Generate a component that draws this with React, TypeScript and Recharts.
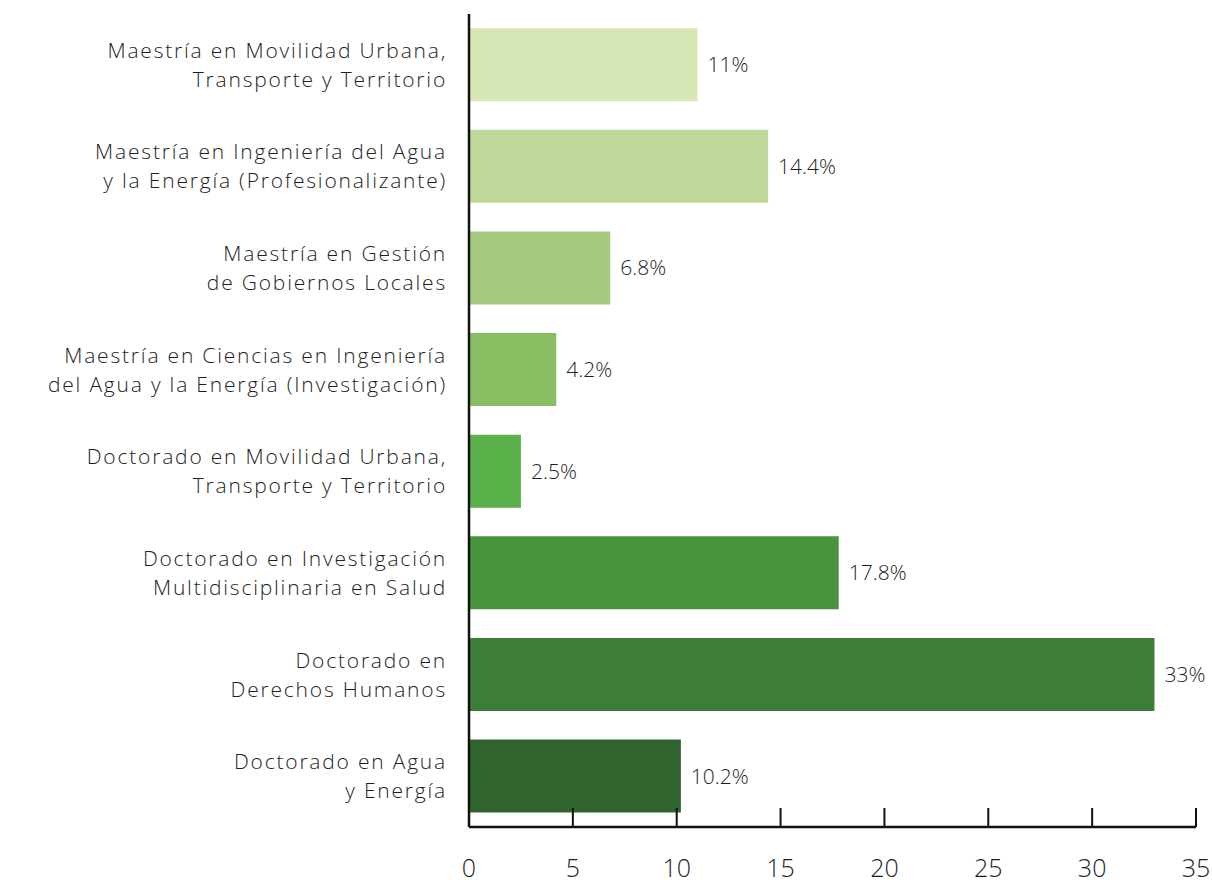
import React from 'react'
import { BarChart, Bar, XAxis, YAxis, Cell, LabelList } from 'recharts'

const programs = [
  ['Maestría en Movilidad Urbana,', 'Transporte y Territorio'],
  ['Maestría en Ingeniería del Agua', 'y la Energía (Profesionalizante)'],
  ['Maestría en Gestión', 'de Gobiernos Locales'],
  ['Maestría en Ciencias en Ingeniería', 'del Agua y la Energía (Investigación)'],
  ['Doctorado en Movilidad Urbana,', 'Transporte y Territorio'],
  ['Doctorado en Investigación', 'Multidisciplinaria en Salud'],
  ['Doctorado en', 'Derechos Humanos'],
  ['Doctorado en Agua', 'y Energía'],
]
const shares = [11, 14.4, 6.8, 4.2, 2.5, 17.8, 33, 10.2]
const xTicks = [0, 5, 10, 15, 20, 25, 30, 35]
const COLORS = ['#d8e7b6', '#bfd99a', '#a5cb80', '#88bf62', '#5ab049', '#48943d', '#3c7d37', '#30652f']

const data = programs.map((lines, i) => ({ name: lines.join(' '), lines, value: shares[i] }))

const FONT = '"Open Sans", Lato, sans-serif'
const AXIS_Y = 827

const CategoryTick = (props: any) => {
  const { x, y, index } = props
  const lines = programs[index] || []
  return (
    <text
      x={x}
      y={y}
      textAnchor="end"
      fontFamily={FONT}
      fontSize={21}
      fontWeight={300}
      letterSpacing={1.8}
      fill="#1e1e1e"
    >
      <tspan x={x} dy={-7}>{lines[0]}</tspan>
      <tspan x={x} dy={29}>{lines[1]}</tspan>
    </text>
  )
}

const ValueTick = (props: any) => {
  const { x, payload } = props
  return (
    <g>
      {payload.value !== 0 && (
        <line x1={x} x2={x} y1={AXIS_Y - 19} y2={AXIS_Y} stroke="#111" strokeWidth={2} />
      )}
      <text x={x} y={877} textAnchor="middle" fontFamily={FONT} fontSize={25} fontWeight={300} fill="#1e1e1e">
        {payload.value}
      </text>
    </g>
  )
}

export default function App() {
  return (
    <div style={{ position: 'absolute', left: 0, top: 0, background: '#fff' }}>
      <BarChart
        width={1212}
        height={885}
        data={data}
        layout="vertical"
        margin={{ top: 14, right: 16, left: 0, bottom: 0 }}
        barCategoryGap="14%"
      >
        <XAxis
          type="number"
          domain={[0, 35]}
          ticks={xTicks}
          height={58}
          tickLine={false}
          axisLine={{ stroke: '#111', strokeWidth: 2.5 }}
          tick={<ValueTick />}
          interval={0}
        />
        <YAxis
          type="category"
          dataKey="name"
          width={469}
          tickLine={false}
          axisLine={{ stroke: '#111', strokeWidth: 2.5 }}
          tick={<CategoryTick />}
          tickMargin={16}
          interval={0}
        />
        <Bar dataKey="value" isAnimationActive={false}>
          {data.map((d, i) => (
            <Cell key={`c-${i}`} fill={COLORS[i]} />
          ))}
          <LabelList
            dataKey="value"
            position="right"
            offset={10}
            formatter={(v: any) => `${v}%`}
            style={{ fontFamily: FONT, fontSize: 21, fontWeight: 300, fill: '#1e1e1e' }}
          />
        </Bar>
      </BarChart>
    </div>
  )
}
